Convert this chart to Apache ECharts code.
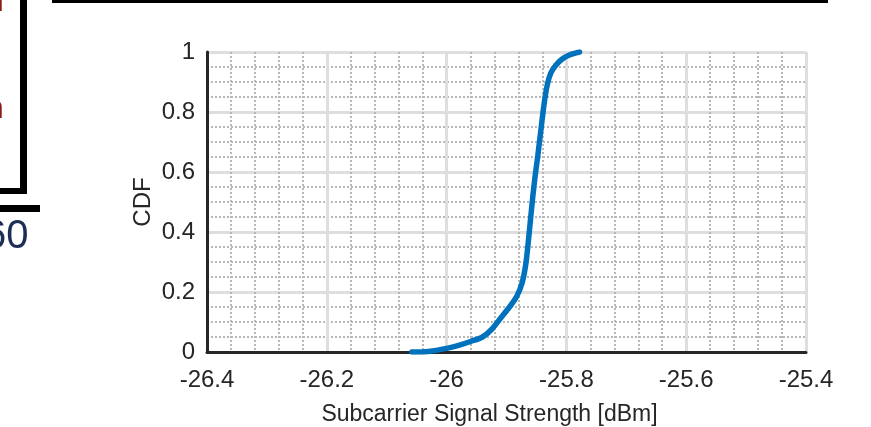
<!DOCTYPE html>
<html>
<head>
<meta charset="utf-8">
<script src="https://cdn.jsdelivr.net/npm/echarts@6/dist/echarts.min.js"></script>
<style>
  html, body { margin: 0; padding: 0; background: #ffffff; }
  #chart { width: 871px; height: 427px; }
</style>
</head>
<body>
<div id="chart"></div>
<script>
// CDF of the measured subcarrier signal strength
const strengthDbm = [-26.058, -26.03, -26.0, -25.98, -25.96, -25.94, -25.925, -25.911, -25.895,
  -25.883, -25.874, -25.868, -25.864, -25.86, -25.856, -25.852, -25.848, -25.842, -25.837,
  -25.832, -25.826, -25.818, -25.808, -25.795, -25.778];
const cdfValues = [0, 0.002, 0.012, 0.022, 0.035, 0.05, 0.075, 0.11, 0.15,
  0.185, 0.23, 0.29, 0.36, 0.44, 0.52, 0.59, 0.65, 0.75, 0.83,
  0.89, 0.93, 0.955, 0.975, 0.99, 1.0];

// axis ranges and tick labels
const xTicks = [-26.4, -26.2, -26, -25.8, -25.6, -25.4];
const yTicks = [0, 0.2, 0.4, 0.6, 0.8, 1];
const xTitle = 'Subcarrier Signal Strength [dBm]';
const yTitle = 'CDF';

const points = strengthDbm.map((v, i) => [v, cdfValues[i]]);
const font = 'Liberation Sans, Arial, Helvetica, sans-serif';
const ink = '#262626';

const chart = echarts.init(document.getElementById('chart'), null, { renderer: 'canvas' });
chart.setOption({
  backgroundColor: '#ffffff',
  animation: false,
  grid: { left: 207, right: 65, top: 52, bottom: 75, containLabel: false, outerBoundsMode: 'none' },
  xAxis: {
    type: 'value',
    min: xTicks[0],
    max: xTicks[xTicks.length - 1],
    interval: 0.2,
    name: xTitle,
    nameLocation: 'middle',
    nameGap: 51,
    nameMoveOverlap: false,
    nameTextStyle: { fontFamily: font, fontSize: 23, color: ink, padding: [0, 34, 0, 0] },
    axisLine: { show: true, onZero: false, lineStyle: { color: ink, width: 3 } },
    axisTick: { show: false },
    axisLabel: {
      fontFamily: font, fontSize: 24, color: ink, margin: 16,
      formatter: v => String(parseFloat(v.toFixed(1)))
    },
    splitLine: { show: true, lineStyle: { color: '#dedede', width: 3 } },
    minorTick: { show: false, splitNumber: 5 },
    minorSplitLine: { show: true, lineStyle: { color: '#b8b8b8', width: 2, type: [2, 2] } }
  },
  yAxis: {
    type: 'value',
    min: yTicks[0],
    max: yTicks[yTicks.length - 1],
    interval: 0.2,
    name: yTitle,
    nameLocation: 'middle',
    nameGap: 52,
    nameMoveOverlap: false,
    nameTextStyle: { fontFamily: font, fontSize: 24, color: ink },
    axisLine: { show: true, onZero: false, lineStyle: { color: ink, width: 3 } },
    axisTick: { show: false },
    axisLabel: {
      fontFamily: font, fontSize: 24, color: ink, margin: 12,
      formatter: v => String(parseFloat(v.toFixed(1)))
    },
    splitLine: { show: true, lineStyle: { color: '#dedede', width: 3 } },
    minorTick: { show: false, splitNumber: 4 },
    minorSplitLine: { show: true, lineStyle: { color: '#b8b8b8', width: 2, type: [2, 2] } }
  },
  series: [{
    type: 'line',
    data: points,
    showSymbol: false,
    smooth: 0.3,
    lineStyle: { color: '#0072bd', width: 5.5, cap: 'round', join: 'round' },
    z: 5
  }],
  graphic: [
    // edge of the neighbouring panel on the left
    { type: 'rect', shape: { x: 20, y: 0, width: 7, height: 194 }, style: { fill: '#000' } },
    { type: 'rect', shape: { x: 0, y: 188, width: 27, height: 6 }, style: { fill: '#000' } },
    { type: 'rect', shape: { x: 0, y: 205, width: 40, height: 7 }, style: { fill: '#000' } },
    { type: 'text', left: -14, top: -14, style: { text: 'n', fontFamily: font, fontSize: 32, fill: '#8b1a1a' } },
    { type: 'text', left: -14, top: 93, style: { text: 'n', fontFamily: font, fontSize: 32, fill: '#8b1a1a' } },
    { type: 'text', left: -16, top: 217, style: { text: '60', fontFamily: font, fontSize: 40, fill: '#1d2d55' } },
    // rule along the top edge
    { type: 'rect', shape: { x: 52, y: 0, width: 776, height: 3 }, style: { fill: '#000' } }
  ]
});
</script>
</body>
</html>
